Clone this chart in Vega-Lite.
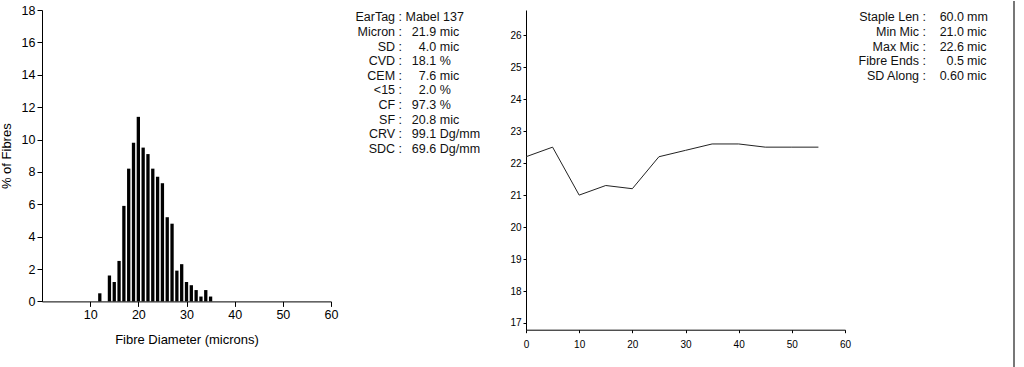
{
  "$schema": "https://vega.github.io/schema/vega-lite/v6.json",
  "padding": {"left": 0, "top": 0, "right": 0, "bottom": 0},
  "bounds": "flush",
  "spacing": 10,
  "config": {
    "font": "Liberation Sans",
    "view": {"stroke": null},
    "axis": {
      "grid": false,
      "domainColor": "#000000",
      "tickColor": "#000000",
      "labelColor": "#000000",
      "titleColor": "#000000",
      "titleFontWeight": "normal",
      "domainWidth": 1,
      "tickWidth": 1,
      "labelFlush": false
    },
    "text": {"font": "Liberation Sans", "fontSize": 12.5, "color": "#111111", "baseline": "middle"}
  },
  "hconcat": [
    {
      "width": 289,
      "height": 291.4,
      "data": {"values": [
        {"diameter": 12, "pct": 0.5},
        {"diameter": 14, "pct": 1.6},
        {"diameter": 15, "pct": 1.2},
        {"diameter": 16, "pct": 2.5},
        {"diameter": 17, "pct": 5.9},
        {"diameter": 18, "pct": 8.2},
        {"diameter": 19, "pct": 9.8},
        {"diameter": 20, "pct": 11.4},
        {"diameter": 21, "pct": 9.5},
        {"diameter": 22, "pct": 9.1},
        {"diameter": 23, "pct": 8.2},
        {"diameter": 24, "pct": 7.7},
        {"diameter": 25, "pct": 7.3},
        {"diameter": 26, "pct": 5.2},
        {"diameter": 27, "pct": 4.8},
        {"diameter": 28, "pct": 1.9},
        {"diameter": 29, "pct": 2.3},
        {"diameter": 30, "pct": 1.2},
        {"diameter": 31, "pct": 1.0},
        {"diameter": 32, "pct": 0.7},
        {"diameter": 33, "pct": 0.3},
        {"diameter": 34, "pct": 0.7},
        {"diameter": 35, "pct": 0.3}
      ]},
      "mark": {"type": "bar", "size": 3.3, "color": "#000000"},
      "encoding": {
        "x": {
          "field": "diameter", "type": "quantitative",
          "scale": {"domain": [0, 60], "nice": false, "zero": true, "padding": 0},
          "axis": {"values": [10, 20, 30, 40, 50, 60], "tickSize": 5, "labelPadding": 2,
                   "labelFontSize": 12.5, "titleFontSize": 13, "titlePadding": 12.5,
                   "title": "Fibre Diameter (microns)"}
        },
        "y": {
          "field": "pct", "type": "quantitative",
          "scale": {"domain": [0, 18], "nice": false, "padding": 0},
          "axis": {"values": [0, 2, 4, 6, 8, 10, 12, 14, 16, 18], "tickSize": 5, "labelPadding": 2,
                   "labelFontSize": 12.5, "titleFontSize": 13, "titlePadding": 8,
                   "title": "% of Fibres"}
        }
      }
    },
    {
      "width": 174.5,
      "height": 146,
      "data": {"values": [
        {"label": "EarTag :", "val": "Mabel 137", "num": "", "unit": ""},
        {"label": "Micron :", "val": "", "num": "21.9", "unit": "mic"},
        {"label": "SD :", "val": "", "num": "4.0", "unit": "mic"},
        {"label": "CVD :", "val": "", "num": "18.1", "unit": "%"},
        {"label": "CEM :", "val": "", "num": "7.6", "unit": "mic"},
        {"label": "<15 :", "val": "", "num": "2.0", "unit": "%"},
        {"label": "CF :", "val": "", "num": "97.3", "unit": "%"},
        {"label": "SF :", "val": "", "num": "20.8", "unit": "mic"},
        {"label": "CRV :", "val": "", "num": "99.1", "unit": "Dg/mm"},
        {"label": "SDC :", "val": "", "num": "69.6", "unit": "Dg/mm"}
      ]},
      "encoding": {
        "y": {"field": "label", "type": "nominal", "sort": null, "axis": null}
      },
      "layer": [
        {"mark": {"type": "text", "align": "right"}, "encoding": {"text": {"field": "label"}, "x": {"value": 61}}},
        {"mark": {"type": "text", "align": "left"}, "encoding": {"text": {"field": "val"}, "x": {"value": 64.5}}},
        {"mark": {"type": "text", "align": "right"}, "encoding": {"text": {"field": "num"}, "x": {"value": 95.2}}},
        {"mark": {"type": "text", "align": "left"}, "encoding": {"text": {"field": "unit"}, "x": {"value": 98.8}}}
      ]
    },
    {
      "width": 319,
      "height": 319.7,
      "data": {"values": [
        {"position": 0, "micron": 22.2},
        {"position": 5, "micron": 22.5},
        {"position": 10, "micron": 21.0},
        {"position": 15, "micron": 21.3},
        {"position": 20, "micron": 21.2},
        {"position": 25, "micron": 22.2},
        {"position": 30, "micron": 22.4},
        {"position": 35, "micron": 22.6},
        {"position": 40, "micron": 22.6},
        {"position": 45, "micron": 22.5},
        {"position": 50, "micron": 22.5},
        {"position": 55, "micron": 22.5}
      ]},
      "mark": {"type": "line", "color": "#222222", "strokeWidth": 1},
      "encoding": {
        "x": {
          "field": "position", "type": "quantitative",
          "scale": {"domain": [0, 60], "nice": false},
          "axis": {"values": [0, 10, 20, 30, 40, 50, 60], "tickSize": 3, "labelPadding": 7,
                   "labelFontSize": 10, "title": null}
        },
        "y": {
          "field": "micron", "type": "quantitative",
          "scale": {"domain": [16.79, 26.79], "nice": false, "zero": false},
          "axis": {"values": [17, 18, 19, 20, 21, 22, 23, 24, 25, 26], "tickSize": 3, "labelPadding": 2,
                   "labelFontSize": 10, "title": null}
        }
      }
    },
    {
      "width": 159,
      "height": 73,
      "data": {"values": [
        {"label": "Staple Len :", "num": "60.0", "unit": "mm"},
        {"label": "Min Mic :", "num": "21.0", "unit": "mic"},
        {"label": "Max Mic :", "num": "22.6", "unit": "mic"},
        {"label": "Fibre Ends :", "num": "0.5", "unit": "mic"},
        {"label": "SD Along :", "num": "0.60", "unit": "mic"}
      ]},
      "layer": [
        {"mark": {"type": "text", "align": "right"}, "encoding": {"y": {"field": "label", "type": "nominal", "sort": null, "axis": null}, "text": {"field": "label"}, "x": {"value": 71}}},
        {"mark": {"type": "text", "align": "right"}, "encoding": {"y": {"field": "label", "type": "nominal", "sort": null, "axis": null}, "text": {"field": "num"}, "x": {"value": 109}}},
        {"mark": {"type": "text", "align": "left"}, "encoding": {"y": {"field": "label", "type": "nominal", "sort": null, "axis": null}, "text": {"field": "unit"}, "x": {"value": 112}}},
        {"mark": {"type": "rule", "color": "#777777", "strokeWidth": 1.5}, "encoding": {"x": {"value": 159}, "y": {"value": -8.8}, "y2": {"value": 358}}}
      ]
    }
  ]
}
